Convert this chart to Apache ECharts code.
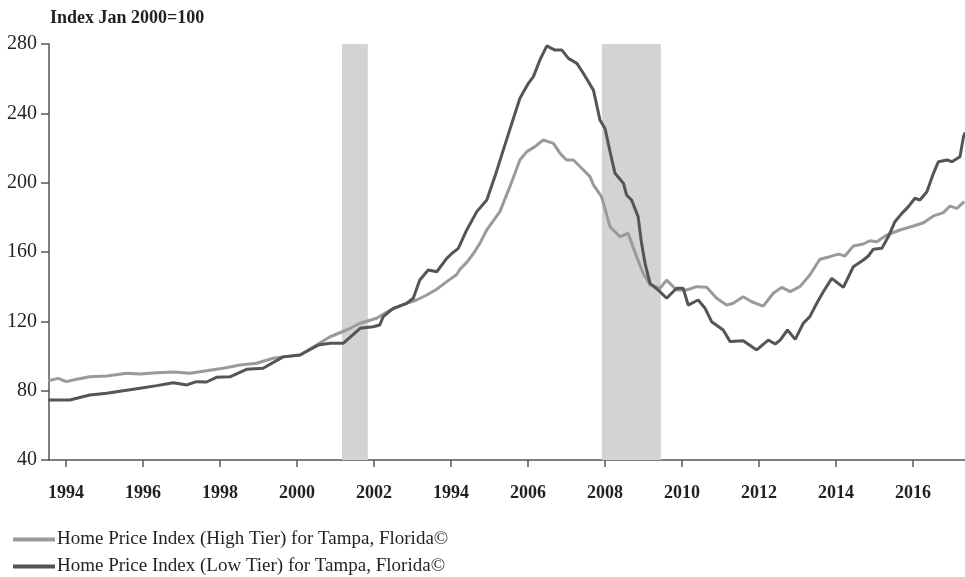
<!DOCTYPE html>
<html>
<head>
<meta charset="utf-8">
<title>Home Price Index Tampa</title>
<script src="https://cdn.jsdelivr.net/npm/echarts@6/dist/echarts.min.js"></script>
<style>
  html, body { margin: 0; padding: 0; background: #fff; }
  #chart { width: 965px; height: 577px; }
</style>
</head>
<body>
<div id="chart"></div>
<script>
// x tick positions and the printed labels (the original prints "1994" under 2004)
var xTickYears = [1994, 1996, 1998, 2000, 2002, 2004, 2006, 2008, 2010, 2012, 2014, 2016];
var xTickLabels = ['1994', '1996', '1998', '2000', '2002', '1994', '2006', '2008', '2010', '2012', '2014', '2016'];

// recessions (decimal years)
var recessions = [[2001.17, 2001.84], [2007.92, 2009.45]];

// High tier
var highYears = [1993.54, 1993.80, 1994.01, 1994.28, 1994.62, 1995.06, 1995.58, 1995.92, 1996.36, 1996.79,
  1997.22, 1997.65, 1998.08, 1998.52, 1998.95, 1999.38, 1999.64, 2000.08, 2000.51, 2000.86,
  2001.29, 2001.64, 2002.07, 2002.42, 2002.85, 2003.11, 2003.37, 2003.63, 2003.89, 2004.15,
  2004.23, 2004.41, 2004.58, 2004.75, 2004.93, 2005.27, 2005.53, 2005.79, 2005.97, 2006.18,
  2006.40, 2006.66, 2006.83, 2007.00, 2007.18, 2007.44, 2007.61, 2007.70, 2007.91, 2008.13,
  2008.39, 2008.60, 2008.82, 2008.99, 2009.17, 2009.43, 2009.60, 2009.86, 2010.12, 2010.38,
  2010.64, 2010.90, 2011.16, 2011.33, 2011.59, 2011.81, 2012.11, 2012.37, 2012.59, 2012.81,
  2013.06, 2013.32, 2013.58, 2013.84, 2014.06, 2014.23, 2014.45, 2014.71, 2014.88, 2015.06,
  2015.32, 2015.66, 2016.01, 2016.27, 2016.53, 2016.79, 2016.96, 2017.14, 2017.33];
var highVals = [85.7, 87.1, 85.2, 86.6, 88.0, 88.5, 90.0, 89.6, 90.4, 90.8,
  90.0, 91.5, 92.9, 94.8, 95.8, 98.7, 99.5, 100.6, 106.3, 111.1,
  115.0, 118.9, 121.8, 126.5, 130.4, 132.3, 135.2, 138.5, 142.9, 147.0,
  150.0, 154.0, 159.0, 165.0, 172.7, 183.3, 197.7, 213.1, 217.9, 220.8,
  224.6, 222.7, 217.0, 213.1, 213.1, 207.3, 203.5, 198.7, 191.9, 174.6,
  168.8, 170.8, 157.4, 147.7, 141.0, 139.1, 143.8, 138.1, 138.1, 140.0,
  139.6, 133.3, 129.4, 130.4, 134.2, 131.3, 128.8, 136.2, 139.6, 137.1,
  140.0, 146.7, 155.8, 157.3, 158.8, 157.7, 163.5, 164.6, 166.5, 165.9,
  169.8, 172.7, 175.0, 176.9, 180.8, 182.7, 186.5, 185.2, 189.0];

// Low tier
var lowYears = [1993.54, 1994.10, 1994.62, 1995.06, 1995.49, 1995.92, 1996.36, 1996.79, 1997.14, 1997.39,
  1997.65, 1997.91, 1998.26, 1998.69, 1999.12, 1999.64, 2000.08, 2000.55, 2000.86, 2001.20,
  2001.64, 2001.98, 2002.15, 2002.24, 2002.50, 2002.85, 2003.02, 2003.19, 2003.41, 2003.63,
  2003.89, 2004.03, 2004.19, 2004.41, 2004.67, 2004.93, 2005.14, 2005.36, 2005.58, 2005.79,
  2006.01, 2006.14, 2006.31, 2006.49, 2006.70, 2006.88, 2007.05, 2007.27, 2007.44, 2007.70,
  2007.87, 2008.00, 2008.13, 2008.26, 2008.48, 2008.56, 2008.69, 2008.86, 2008.95, 2009.04,
  2009.17, 2009.43, 2009.60, 2009.86, 2010.03, 2010.16, 2010.42, 2010.60, 2010.77, 2011.07,
  2011.25, 2011.59, 2011.94, 2012.24, 2012.42, 2012.55, 2012.74, 2012.94, 2013.15, 2013.32,
  2013.50, 2013.67, 2013.89, 2014.19, 2014.45, 2014.71, 2014.84, 2014.97, 2015.19, 2015.36,
  2015.53, 2015.71, 2015.88, 2016.05, 2016.18, 2016.36, 2016.53, 2016.66, 2016.88, 2017.01,
  2017.22, 2017.31, 2017.35];
var lowVals = [74.6, 74.6, 77.5, 78.5, 80.0, 81.4, 82.9, 84.6, 83.3, 85.2,
  85.0, 87.7, 88.0, 92.3, 92.9, 99.5, 100.6, 106.3, 107.3, 107.3,
  116.0, 116.9, 117.9, 122.7, 127.5, 130.4, 133.3, 143.8, 149.6, 148.6,
  156.3, 159.3, 162.1, 172.7, 183.3, 190.0, 203.5, 218.9, 234.2, 248.7,
  257.3, 261.2, 270.8, 278.9, 276.5, 276.5, 271.7, 268.8, 263.0, 253.4,
  236.1, 231.3, 218.0, 205.4, 199.6, 192.9, 190.0, 180.4, 165.0, 153.5,
  141.9, 137.1, 133.3, 139.1, 139.1, 129.4, 132.3, 127.5, 119.8, 115.0,
  108.3, 108.8, 103.5, 109.2, 106.9, 109.2, 115.0, 109.6, 118.9, 122.7,
  130.4, 137.1, 144.8, 139.6, 151.5, 155.4, 157.7, 161.6, 162.1, 168.9,
  177.5, 182.3, 186.2, 191.0, 190.0, 194.8, 205.4, 212.1, 213.1, 212.1,
  215.0, 226.5, 229.0];

var seriesNames = ['Home Price Index (High Tier) for Tampa, Florida©', 'Home Price Index (Low Tier) for Tampa, Florida©'];

function zip(xs, ys) {
  var out = [];
  for (var i = 0; i < xs.length; i++) out.push([xs[i], ys[i]]);
  return out;
}

var serif = '"Liberation Serif", "DejaVu Serif", serif';
var txt = '#231f20';

// one legend block per row, stacked like the original
function legendRow(name, top) {
  return {
    left: 8,
    top: top,
    itemWidth: 42,
    itemHeight: 4,
    icon: 'rect',
    selectedMode: false,
    data: [name],
    textStyle: { fontFamily: serif, fontSize: 19, color: txt, padding: [0, 0, 0, -3] }
  };
}

var option = {
  animation: false,
  textStyle: { fontFamily: serif, color: txt },
  title: {
    text: 'Index Jan 2000=100',
    left: 45,
    top: 4,
    textStyle: { fontFamily: serif, fontSize: 18, fontWeight: 'bold', color: txt }
  },
  legend: [legendRow(seriesNames[0], 525), legendRow(seriesNames[1], 552)],
  grid: { left: 49, right: 0, top: 44, bottom: 117, containLabel: false },
  xAxis: {
    type: 'value',
    min: 1993.56,
    max: 2017.35,
    splitLine: { show: false },
    axisLine: { show: true, onZero: false, lineStyle: { color: '#555', width: 1.5 } },
    axisTick: { show: true, customValues: xTickYears, length: 7, lineStyle: { color: '#555', width: 1.5 } },
    axisLabel: {
      customValues: xTickYears,
      margin: 24,
      fontFamily: serif,
      fontSize: 18,
      fontWeight: 'bold',
      color: txt,
      formatter: function (v) {
        var i = xTickYears.indexOf(Math.round(v));
        return i >= 0 ? xTickLabels[i] : '';
      }
    }
  },
  yAxis: {
    type: 'value',
    min: 40,
    max: 280,
    interval: 40,
    splitLine: { show: false },
    axisLine: { show: true, lineStyle: { color: '#555', width: 1.5 } },
    axisTick: { show: true, length: 8, lineStyle: { color: '#555', width: 1.5 } },
    axisLabel: { margin: 12, fontFamily: serif, fontSize: 20, color: txt }
  },
  series: [
    {
      name: 'recessions',
      type: 'line',
      data: [],
      z: 1,
      silent: true,
      markArea: {
        silent: true,
        itemStyle: { color: '#d1d3d4' },
        data: recessions.map(function (r) { return [{ xAxis: r[0] }, { xAxis: r[1] }]; })
      }
    },
    {
      name: seriesNames[0],
      type: 'line',
      z: 3,
      symbol: 'none',
      color: '#9a9a9a',
      lineStyle: { width: 3, color: '#9a9a9a' },
      data: zip(highYears, highVals)
    },
    {
      name: seriesNames[1],
      type: 'line',
      z: 4,
      symbol: 'none',
      color: '#555555',
      lineStyle: { width: 3, color: '#555555' },
      data: zip(lowYears, lowVals)
    }
  ]
};

var chart = echarts.init(document.getElementById('chart'));
chart.setOption(option);
window.addEventListener('resize', function () {
  chart.resize();
});
</script>
</body>
</html>
